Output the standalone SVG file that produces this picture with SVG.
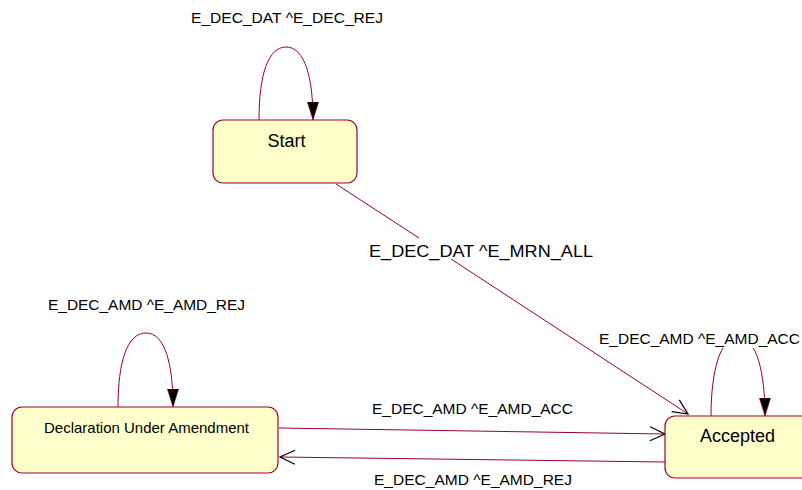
<svg xmlns="http://www.w3.org/2000/svg" width="802" height="490" viewBox="0 0 802 490">
<style>
.box{fill:#FFFFCC;stroke:#990033;stroke-width:1.2}
.edge{fill:none;stroke:#990033;stroke-width:1}
.lbl{font-family:"Liberation Sans",Arial,sans-serif;font-size:15px;fill:#000;text-anchor:middle}
.nm{font-family:"Liberation Sans",Arial,sans-serif;font-size:18px;fill:#000;text-anchor:middle}
</style>
<defs>
<marker id="fill" markerWidth="18" markerHeight="12" refX="16" refY="5" orient="auto" markerUnits="userSpaceOnUse" viewBox="0 0 16 10">
<path d="M0,0 L16,5 L0,10 Z" fill="#000" stroke="#990033" stroke-width="0.5"/>
</marker>
<marker id="open" markerWidth="20" markerHeight="20" refX="16" refY="8" orient="auto" markerUnits="userSpaceOnUse" viewBox="0 0 20 16">
<path d="M1,1 L16,8 L1,15" fill="none" stroke="#000" stroke-width="1.2"/>
</marker>
</defs>
<rect width="802" height="490" fill="#fff"/>
<g id="connectors">
<path class="edge" d="M259,120 C259,75 268,47 286,47 C305,47 313,78 313,120" marker-end="url(#fill)"/>
<path class="edge" d="M118,407 C118,362 127,333 146,333 C165,333 173,364 173,407" marker-end="url(#fill)"/>
<path class="edge" d="M711,416 C711,372 720,337 738,337 C757,337 765,374 765,416" marker-end="url(#fill)"/>
<path class="edge" d="M336,184 L419,238"/>
<path class="edge" d="M451,259 L688,414" marker-end="url(#open)"/>
<path class="edge" d="M279,428 L665,434" marker-end="url(#open)"/>
<path class="edge" d="M665,462 L280,457" marker-end="url(#open)"/>
<rect x="598" y="330" width="204" height="18" fill="#fff"/>
<text class="lbl" x="287" y="23" textLength="192" lengthAdjust="spacingAndGlyphs">E_DEC_DAT ^E_DEC_REJ</text>
<text class="lbl" x="146.5" y="310" textLength="197" lengthAdjust="spacingAndGlyphs">E_DEC_AMD ^E_AMD_REJ</text>
<text class="lbl" x="699.5" y="344" textLength="201" lengthAdjust="spacingAndGlyphs">E_DEC_AMD ^E_AMD_ACC</text>
<text class="lbl" x="481" y="257" style="font-size:17px" textLength="224" lengthAdjust="spacingAndGlyphs">E_DEC_DAT ^E_MRN_ALL</text>
<text class="lbl" x="472.5" y="414" textLength="201" lengthAdjust="spacingAndGlyphs">E_DEC_AMD ^E_AMD_ACC</text>
<text class="lbl" x="473" y="485" textLength="198" lengthAdjust="spacingAndGlyphs">E_DEC_AMD ^E_AMD_REJ</text>
</g>
<g id="start">
<rect class="box" x="213" y="120" width="144" height="63" rx="10"/>
<text class="nm" x="286.5" y="147">Start</text>
</g>
<g id="declaration-under-amendment">
<rect class="box" x="12" y="407" width="266" height="66" rx="10"/>
<text class="lbl" x="146.5" y="433" textLength="205" lengthAdjust="spacingAndGlyphs">Declaration Under Amendment</text>
</g>
<g id="accepted">
<rect class="box" x="665" y="416" width="150" height="62" rx="10"/>
<text class="nm" x="737.5" y="442">Accepted</text>
</g>
</svg>
